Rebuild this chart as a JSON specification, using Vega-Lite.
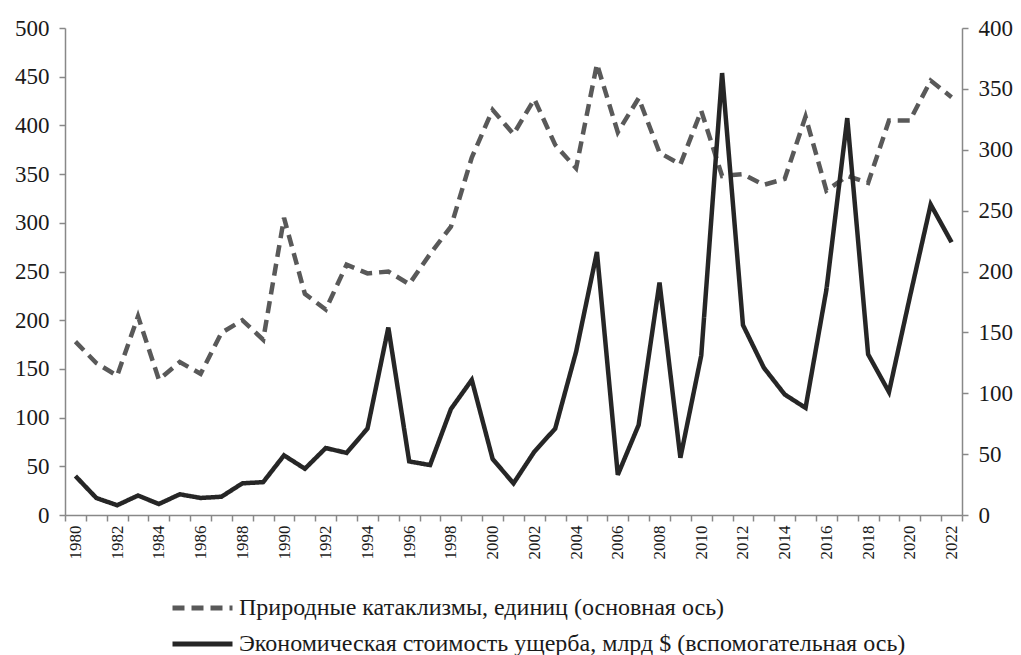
{
  "$schema": "https://vega.github.io/schema/vega-lite/v6.json",
  "width": 897,
  "height": 487,
  "autosize": {"type": "none"},
  "padding": {"left": 65, "top": 28, "right": 59, "bottom": 140},
  "background": "white",
  "config": {
    "font": "Liberation Serif",
    "view": {"stroke": null},
    "axis": {
      "grid": false,
      "domainColor": "#888888",
      "domainWidth": 1.5,
      "tickColor": "#888888",
      "tickWidth": 1.5,
      "tickSize": 6,
      "labelColor": "#1a1a1a",
      "labelFont": "Liberation Serif",
      "title": null
    }
  },
  "datasets": {
    "disasters": [
      {"year": 1980, "v": 178}, {"year": 1981, "v": 156}, {"year": 1982, "v": 143}, {"year": 1983, "v": 204},
      {"year": 1984, "v": 139}, {"year": 1985, "v": 157}, {"year": 1986, "v": 145}, {"year": 1987, "v": 187},
      {"year": 1988, "v": 200}, {"year": 1989, "v": 180}, {"year": 1990, "v": 305}, {"year": 1991, "v": 227},
      {"year": 1992, "v": 211}, {"year": 1993, "v": 257}, {"year": 1994, "v": 248}, {"year": 1995, "v": 250},
      {"year": 1996, "v": 237}, {"year": 1997, "v": 268}, {"year": 1998, "v": 296}, {"year": 1999, "v": 367},
      {"year": 2000, "v": 416}, {"year": 2001, "v": 391}, {"year": 2002, "v": 427}, {"year": 2003, "v": 380},
      {"year": 2004, "v": 356}, {"year": 2005, "v": 463}, {"year": 2006, "v": 393}, {"year": 2007, "v": 428},
      {"year": 2008, "v": 372}, {"year": 2009, "v": 360}, {"year": 2010, "v": 415}, {"year": 2011, "v": 348},
      {"year": 2012, "v": 350}, {"year": 2013, "v": 339}, {"year": 2014, "v": 345}, {"year": 2015, "v": 409},
      {"year": 2016, "v": 333}, {"year": 2017, "v": 348}, {"year": 2018, "v": 341}, {"year": 2019, "v": 405},
      {"year": 2020, "v": 405}, {"year": 2021, "v": 446}, {"year": 2022, "v": 429}
    ],
    "damage": [
      {"year": 1980, "v": 32}, {"year": 1981, "v": 14}, {"year": 1982, "v": 8}, {"year": 1983, "v": 16},
      {"year": 1984, "v": 9}, {"year": 1985, "v": 17}, {"year": 1986, "v": 14}, {"year": 1987, "v": 15},
      {"year": 1988, "v": 26}, {"year": 1989, "v": 27}, {"year": 1990, "v": 49}, {"year": 1991, "v": 38},
      {"year": 1992, "v": 55}, {"year": 1993, "v": 51}, {"year": 1994, "v": 71}, {"year": 1995, "v": 154},
      {"year": 1996, "v": 44}, {"year": 1997, "v": 41}, {"year": 1998, "v": 87}, {"year": 1999, "v": 111},
      {"year": 2000, "v": 46}, {"year": 2001, "v": 26}, {"year": 2002, "v": 52}, {"year": 2003, "v": 71},
      {"year": 2004, "v": 134}, {"year": 2005, "v": 216}, {"year": 2006, "v": 33}, {"year": 2007, "v": 74},
      {"year": 2008, "v": 191}, {"year": 2009, "v": 47}, {"year": 2010, "v": 131}, {"year": 2011, "v": 363},
      {"year": 2012, "v": 156}, {"year": 2013, "v": 121}, {"year": 2014, "v": 99}, {"year": 2015, "v": 88},
      {"year": 2016, "v": 185}, {"year": 2017, "v": 326}, {"year": 2018, "v": 132}, {"year": 2019, "v": 101},
      {"year": 2020, "v": 179}, {"year": 2021, "v": 255}, {"year": 2022, "v": 224}
    ]
  },
  "layer": [
    {
      "data": {"name": "disasters"},
      "mark": {"type": "line", "strokeWidth": 4.5, "strokeCap": "butt", "strokeJoin": "miter"},
      "encoding": {
        "x": {
          "field": "year", "type": "ordinal", "bandPosition": 0.5,
          "scale": {"type": "band", "paddingInner": 0, "paddingOuter": 0},
          "axis": {
            "tickBand": "extent", "labelAngle": 270, "labelFontSize": 17, "labelOverlap": false,
            "labelPadding": 4, "labelAlign": "right", "labelBaseline": "middle",
            "labelExpr": "datum.value % 2 == 0 ? datum.label : ''"
          }
        },
        "y": {
          "field": "v", "type": "quantitative",
          "scale": {"domain": [0, 500], "nice": false},
          "axis": {"orient": "left", "values": [0, 50, 100, 150, 200, 250, 300, 350, 400, 450, 500], "labelFontSize": 23, "labelPadding": 10}
        },
        "color": {
          "datum": "Природные катаклизмы, единиц (основная ось)",
          "scale": {"domain": ["Природные катаклизмы, единиц (основная ось)", "Экономическая стоимость ущерба, млрд $ (вспомогательная ось)"], "range": ["#595959", "#262626"]},
          "legend": {
            "title": null, "orient": "none", "legendX": 105, "legendY": 562, "direction": "vertical",
            "symbolType": "stroke", "symbolSize": 3600, "symbolStrokeWidth": 5, "clipHeight": 36,
            "labelFontSize": 24, "labelLimit": 0, "labelColor": "#1a1a1a", "rowPadding": 0, "labelOffset": 4
          }
        },
        "strokeDash": {
          "datum": "Природные катаклизмы, единиц (основная ось)",
          "scale": {"domain": ["Природные катаклизмы, единиц (основная ось)", "Экономическая стоимость ущерба, млрд $ (вспомогательная ось)"], "range": [[12, 7], [1, 0]]},
          "legend": {
            "title": null, "orient": "none", "legendX": 105, "legendY": 562, "direction": "vertical",
            "symbolType": "stroke", "symbolSize": 3600, "symbolStrokeWidth": 5, "clipHeight": 36,
            "labelFontSize": 24, "labelLimit": 0, "labelColor": "#1a1a1a", "rowPadding": 0, "labelOffset": 4
          }
        }
      }
    },
    {
      "data": {"name": "damage"},
      "mark": {"type": "line", "strokeWidth": 4.5, "strokeCap": "butt", "strokeJoin": "miter"},
      "encoding": {
        "x": {"field": "year", "type": "ordinal", "bandPosition": 0.5},
        "y": {
          "field": "v", "type": "quantitative",
          "scale": {"domain": [0, 400], "nice": false},
          "axis": {"orient": "right", "values": [0, 50, 100, 150, 200, 250, 300, 350, 400], "labelFontSize": 23, "labelPadding": 10}
        },
        "color": {"datum": "Экономическая стоимость ущерба, млрд $ (вспомогательная ось)"},
        "strokeDash": {"datum": "Экономическая стоимость ущерба, млрд $ (вспомогательная ось)"}
      }
    }
  ],
  "resolve": {"scale": {"y": "independent"}}
}
